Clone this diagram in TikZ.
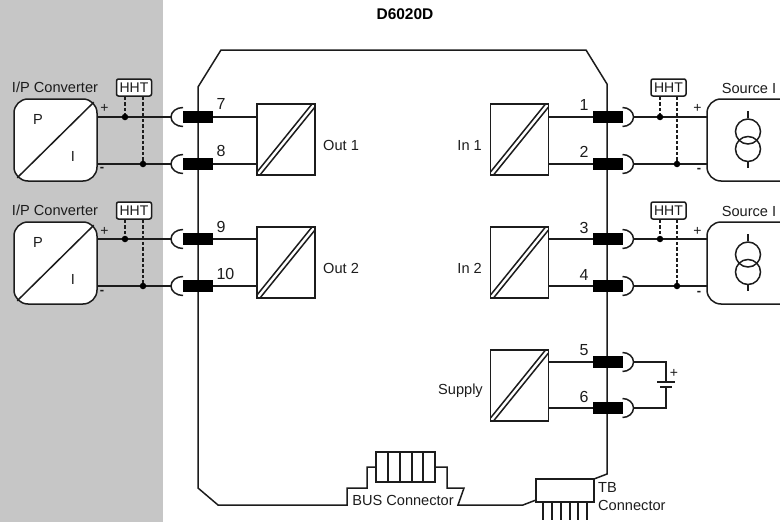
\documentclass[tikz,border=0pt]{standalone}
\usepackage{fontspec}
\setmainfont{Liberation Sans}
\definecolor{panelgray}{RGB}{198,198,198}
\definecolor{inkgray}{RGB}{28,28,28}
\newcommand{\lbl}{\fontsize{14.6}{16}\selectfont}

\begin{document}
\begin{tikzpicture}[x=1pt, y=-1pt]
 \tikzstyle{wire}=[draw=inkgray, line width=1.5pt]
 \tikzstyle{dashwire}=[draw=inkgray, line width=1.4pt, dash pattern=on 3.5pt off 2pt]
 \tikzstyle{term}=[rectangle, fill=black, inner sep=0pt, outer sep=0pt, minimum width=30pt, minimum height=12pt]
 \tikzstyle{dot}=[circle, fill=black, inner sep=0pt, minimum size=6.5pt]
 \tikzstyle{num}=[inner sep=0pt, text=inkgray, font=\fontsize{16}{18}\selectfont]
 \tikzstyle{txt}=[inner sep=0pt, text=inkgray, font=\lbl]
 \tikzstyle{plus}=[inner sep=0pt, text=inkgray, font=\fontsize{14}{15}\selectfont]
 \tikzstyle{minus}=[inner sep=0pt, text=inkgray, font=\bfseries\fontsize{13}{14}\selectfont]
 \tikzstyle{hht}=[wire, rectangle, rounded corners=2pt, fill=white, inner sep=0pt, minimum width=35pt, minimum height=17pt, text=inkgray, font=\fontsize{14}{15}\selectfont]
 \tikzstyle{conv}=[wire, rectangle, rounded corners=14pt, fill=white, inner sep=0pt, minimum width=83pt, minimum height=82pt]
 \tikzstyle{block}=[wire, rectangle, inner sep=0pt, outer sep=0pt, minimum width=58pt, minimum height=71pt,
   path picture={
     \draw[wire] ([yshift=3pt]path picture bounding box.south west) -- ([xshift=-3pt]path picture bounding box.north east);
     \draw[wire] ([xshift=3pt]path picture bounding box.south west) -- ([yshift=-3pt]path picture bounding box.north east);
   }]

 \useasboundingbox (0,0) rectangle (780,522);
 \fill[panelgray] (0,0) rectangle (163,522);
 \node[inner sep=0pt, text=black, font=\bfseries\fontsize{15.5}{17}\selectfont] (title) at (405,14) {D6020D};

 % housing
 \draw[wire] (594,479) -- (607,474) -- (607,84) -- (586,50) -- (221,50) -- (198,87) -- (198,488) -- (218,505)
   -- (347,505) -- (347,488) -- (367,488) -- (367,467) -- (376,467);
 \draw[wire] (435,467) -- (447,467) -- (447,488) -- (464,488) -- (458,505) -- (523,505) -- (536,500);

 % left side
 \begin{scope}
  \node[conv] (conv1) at (55.5,140) {};
  \draw[wire] ([shift={(4pt,4pt)}]conv1.south west) -- ([shift={(-4pt,-4pt)}]conv1.north east);
  \node[txt] (conv1p) at (38,119) {P};
  \node[txt] (conv1i) at (73,156) {I};
  \node[txt] (conv1t) at (55,87) {I/P Converter};
  \node[plus] (conv1a) at (104.5,108) {+};
  \node[minus] (conv1b) at (102,169) {-};
  \node[term] (t7) at (198,117) {};
  \node[term] (t8) at (198,164) {};
  \node[num] (n7) at (221,104) {7};
  \node[num] (n8) at (221,151) {8};
  \draw[wire] ([yshift=9.5pt]t7.west) arc[start angle=90, end angle=270, x radius=12pt, y radius=9.5pt];
  \draw[wire] ([yshift=9.5pt]t8.west) arc[start angle=90, end angle=270, x radius=12pt, y radius=9.5pt];
  \draw[wire] (conv1.east |- t7) -- ([xshift=-12pt]t7.west);
  \draw[wire] (conv1.east |- t8) -- ([xshift=-12pt]t8.west);
  \node[hht] (hht1) at (134,87.5) {HHT};
  \node[dot] (d1a) at (125,117) {};
  \node[dot] (d1b) at (143,164) {};
  \draw[dashwire] (hht1.south -| d1a) -- (d1a);
  \draw[dashwire] (hht1.south -| d1b) -- (d1b);
  \node[block] (out1) at (286,139.5) {};
  \node[txt, anchor=west] (out1t) at (323,145) {Out 1};
  \draw[wire] (t7.east) -- (out1.west |- t7);
  \draw[wire] (t8.east) -- (out1.west |- t8);
 \end{scope}

 \begin{scope}
  \node[conv] (conv2) at (55.5,263) {};
  \draw[wire] ([shift={(4pt,4pt)}]conv2.south west) -- ([shift={(-4pt,-4pt)}]conv2.north east);
  \node[txt] (conv2p) at (38,242) {P};
  \node[txt] (conv2i) at (73,279) {I};
  \node[txt] (conv2t) at (55,210) {I/P Converter};
  \node[plus] (conv2a) at (104.5,231) {+};
  \node[minus] (conv2b) at (102,292) {-};
  \node[term] (t9) at (198,239) {};
  \node[term] (t10) at (198,286) {};
  \node[num] (n9) at (221,227) {9};
  \node[num] (n10) at (225.5,274) {10};
  \draw[wire] ([yshift=9.5pt]t9.west) arc[start angle=90, end angle=270, x radius=12pt, y radius=9.5pt];
  \draw[wire] ([yshift=9.5pt]t10.west) arc[start angle=90, end angle=270, x radius=12pt, y radius=9.5pt];
  \draw[wire] (conv2.east |- t9) -- ([xshift=-12pt]t9.west);
  \draw[wire] (conv2.east |- t10) -- ([xshift=-12pt]t10.west);
  \node[hht] (hht2) at (134,210.5) {HHT};
  \node[dot] (d2a) at (125,239) {};
  \node[dot] (d2b) at (143,286) {};
  \draw[dashwire] (hht2.south -| d2a) -- (d2a);
  \draw[dashwire] (hht2.south -| d2b) -- (d2b);
  \node[block] (out2) at (286,262.5) {};
  \node[txt, anchor=west] (out2t) at (323,268) {Out 2};
  \draw[wire] (t9.east) -- (out2.west |- t9);
  \draw[wire] (t10.east) -- (out2.west |- t10);
 \end{scope}

 % right side
 \begin{scope}
  \draw[wire, fill=white, rounded corners=14pt] (780,99) -- (707,99) -- (707,181) -- (780,181);
  \node[circle, wire, inner sep=0pt, minimum size=25pt] (src1a) at (748,131.5) {};
  \node[circle, wire, inner sep=0pt, minimum size=25pt] (src1b) at (748,149) {};
  \coordinate (src1top) at (748,111);
  \coordinate (src1bot) at (748,168);
  \draw[wire] (src1top) -- (src1a.north);
  \draw[wire] (src1b.south) -- (src1bot);
  \node[txt] (src1t) at (749,88) {Source I};
  \node[plus] (src1p) at (697.5,108) {+};
  \node[minus] (src1m) at (699,170) {-};
  \node[term] (t1) at (607.5,117) {};
  \node[term] (t2) at (607.5,164) {};
  \node[num] (n1) at (584,105) {1};
  \node[num] (n2) at (584,152) {2};
  \draw[wire] ([yshift=9.5pt]t1.east) arc[start angle=90, end angle=-90, x radius=11pt, y radius=9.5pt];
  \draw[wire] ([yshift=9.5pt]t2.east) arc[start angle=90, end angle=-90, x radius=11pt, y radius=9.5pt];
  \draw[wire] ([xshift=11pt]t1.east) -- (707,117);
  \draw[wire] ([xshift=11pt]t2.east) -- (707,164);
  \node[hht] (hht3) at (668.5,87.5) {HHT};
  \node[dot] (d3a) at (660,117) {};
  \node[dot] (d3b) at (677,164) {};
  \draw[dashwire] (hht3.south -| d3a) -- (d3a);
  \draw[dashwire] (hht3.south -| d3b) -- (d3b);
  \node[block] (in1) at (519.5,139.5) {};
  \node[txt, anchor=east] (in1t) at (482,145) {In 1};
  \draw[wire] (in1.east |- t1) -- (t1.west);
  \draw[wire] (in1.east |- t2) -- (t2.west);
 \end{scope}

 \begin{scope}
  \draw[wire, fill=white, rounded corners=14pt] (780,222) -- (707,222) -- (707,304) -- (780,304);
  \node[circle, wire, inner sep=0pt, minimum size=25pt] (src2a) at (748,254.5) {};
  \node[circle, wire, inner sep=0pt, minimum size=25pt] (src2b) at (748,272) {};
  \coordinate (src2top) at (748,234);
  \coordinate (src2bot) at (748,291);
  \draw[wire] (src2top) -- (src2a.north);
  \draw[wire] (src2b.south) -- (src2bot);
  \node[txt] (src2t) at (749,211) {Source I};
  \node[plus] (src2p) at (697.5,231) {+};
  \node[minus] (src2m) at (699,293) {-};
  \node[term] (t3) at (607.5,239) {};
  \node[term] (t4) at (607.5,286) {};
  \node[num] (n3) at (584,228) {3};
  \node[num] (n4) at (584,275) {4};
  \draw[wire] ([yshift=9.5pt]t3.east) arc[start angle=90, end angle=-90, x radius=11pt, y radius=9.5pt];
  \draw[wire] ([yshift=9.5pt]t4.east) arc[start angle=90, end angle=-90, x radius=11pt, y radius=9.5pt];
  \draw[wire] ([xshift=11pt]t3.east) -- (707,239);
  \draw[wire] ([xshift=11pt]t4.east) -- (707,286);
  \node[hht] (hht4) at (668.5,210.5) {HHT};
  \node[dot] (d4a) at (660,239) {};
  \node[dot] (d4b) at (677,286) {};
  \draw[dashwire] (hht4.south -| d4a) -- (d4a);
  \draw[dashwire] (hht4.south -| d4b) -- (d4b);
  \node[block] (in2) at (519.5,262.5) {};
  \node[txt, anchor=east] (in2t) at (482,268) {In 2};
  \draw[wire] (in2.east |- t3) -- (t3.west);
  \draw[wire] (in2.east |- t4) -- (t4.west);
 \end{scope}

 % supply
 \begin{scope}
  \node[term] (t5) at (607.5,362) {};
  \node[term] (t6) at (607.5,408) {};
  \node[num] (n5) at (584,350) {5};
  \node[num] (n6) at (584,397) {6};
  \draw[wire] ([yshift=9.5pt]t5.east) arc[start angle=90, end angle=-90, x radius=11pt, y radius=9.5pt];
  \draw[wire] ([yshift=9.5pt]t6.east) arc[start angle=90, end angle=-90, x radius=11pt, y radius=9.5pt];
  \coordinate (batp) at (666,382);
  \coordinate (batm) at (666,387);
  \draw[wire] ([xshift=11pt]t5.east) -| (batp);
  \draw[wire] ([xshift=11pt]t6.east) -| (batm);
  \draw[wire] ([xshift=-9pt]batp) -- ([xshift=9pt]batp);
  \draw[wire] ([xshift=-6pt]batm) -- ([xshift=6pt]batm);
  \node[plus] (batt) at (674,373.5) {+};
  \node[block] (sup) at (519.5,385.5) {};
  \node[txt, anchor=east] (supt) at (483,391) {Supply};
  \draw[wire] (sup.east |- t5) -- (t5.west);
  \draw[wire] (sup.east |- t6) -- (t6.west);
 \end{scope}

 % connectors
 \begin{scope}
  \node[wire, rectangle, inner sep=0pt, outer sep=0pt, minimum width=59pt, minimum height=30pt] (bus) at (405.5,467) {};
  \draw[wire] (388,452) -- (388,482);
  \draw[wire] (400,452) -- (400,482);
  \draw[wire] (412,452) -- (412,482);
  \draw[wire] (423,452) -- (423,482);
  \node[txt] (bust) at (403,500) {BUS Connector};
  \node[wire, rectangle, inner sep=0pt, outer sep=0pt, minimum width=58pt, minimum height=23pt] (tb) at (565,490.5) {};
  \draw[wire] (543,502) -- (543,520);
  \draw[wire] (552,502) -- (552,520);
  \draw[wire] (561,502) -- (561,520);
  \draw[wire] (570,502) -- (570,520);
  \draw[wire] (578,502) -- (578,520);
  \draw[wire] (587,502) -- (587,520);
  \node[txt, anchor=west] (tbt1) at (598,487) {TB};
  \node[txt, anchor=west] (tbt2) at (598,505) {Connector};
 \end{scope}
\end{tikzpicture}
\end{document}
